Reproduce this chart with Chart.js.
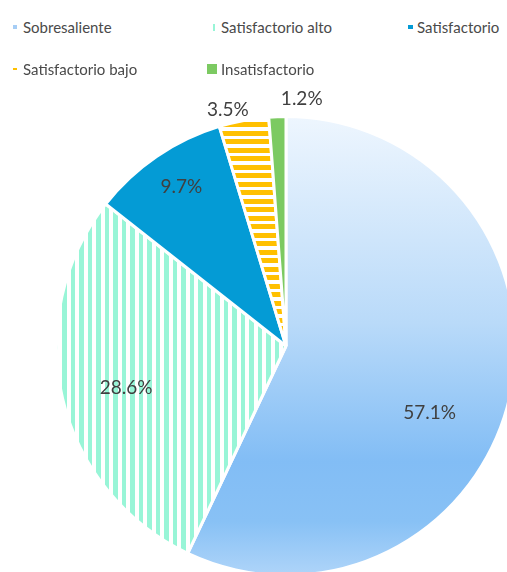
<!DOCTYPE html>
<html>
<head>
<meta charset="utf-8">
<script src="https://cdn.jsdelivr.net/npm/chart.js@4/dist/chart.umd.min.js"></script>
<style>
  html, body { margin: 0; padding: 0; background: #fff; overflow: hidden; width: 507px; height: 572px; }
  #wrap { position: relative; width: 507px; height: 572px; overflow: hidden; }
  #pie { position: absolute; left: -14px; top: 46px; }
  .leg { position: absolute; font-family: Lato, "Liberation Sans", sans-serif; font-size: 15px; color: #4a4a4a; line-height: 18px; white-space: nowrap; z-index: 2; }
  .mk { position: absolute; z-index: 2; }
</style>
</head>
<body>
<div id="wrap">
  <canvas id="pie" width="600" height="600"></canvas>
</div>
<script>
const categories = ['Sobresaliente', 'Satisfactorio alto', 'Satisfactorio', 'Satisfactorio bajo', 'Insatisfactorio'];
const percentages = [57.1, 28.6, 9.7, 3.5, 1.2];

// label placement: fraction of radius, angle nudge (deg) off the slice middle
const labelRadius = [0.69, 0.72, 0.83, 1.06, 1.08];
const labelNudge = [12.3, -1.5, 1, -3.2, 5.8];

const canvas = document.getElementById('pie');
const ctx = canvas.getContext('2d');

// two stripes per 17px tile, so the period works out near 8.5px
function stripes(color, vertical, bands) {
  const c = document.createElement('canvas');
  c.width = 17; c.height = 17;
  const g = c.getContext('2d');
  g.fillStyle = '#fff';
  g.fillRect(0, 0, 17, 17);
  g.fillStyle = color;
  bands.forEach(([from, to]) => {
    if (vertical) g.fillRect(from, 0, to - from, 17);
    else g.fillRect(0, from, 17, to - from);
  });
  return ctx.createPattern(c, 'repeat');
}

const mint = stripes('#98f5d7', true, [[0, 4], [8, 13]]);
const orange = stripes('#ffc000', false, [[0, 5], [8, 13]]);

function sobresalienteFill(chart) {
  const area = chart.chartArea;
  if (!area) return '#a6cdf5';
  const g = chart.ctx.createLinearGradient(0, area.top, 0, area.bottom);
  g.addColorStop(0, '#eef6fe');
  g.addColorStop(0.45, '#b9daf9');
  g.addColorStop(0.75, '#82bdf5');
  g.addColorStop(0.88, '#88c1f5');
  g.addColorStop(1, '#b0d5f9');
  return g;
}

const flatFills = [null, mint, '#049bd5', orange, '#7cca62'];

const pctLabels = {
  id: 'pctLabels',
  afterDatasetsDraw(chart) {
    const c = chart.ctx;
    const meta = chart.getDatasetMeta(0);
    c.save();
    c.font = '19px Lato, "Liberation Sans", sans-serif';
    c.fillStyle = '#404040';
    c.textAlign = 'center';
    c.textBaseline = 'middle';
    meta.data.forEach((arc, i) => {
      const p = arc.getProps(['x', 'y', 'startAngle', 'endAngle', 'outerRadius'], true);
      const mid = (p.startAngle + p.endAngle) / 2 + labelNudge[i] * Math.PI / 180;
      const r = p.outerRadius * labelRadius[i];
      c.fillText(percentages[i].toFixed(1) + '%', p.x + Math.cos(mid) * r, p.y + Math.sin(mid) * r);
    });
    c.restore();
  }
};

new Chart(ctx, {
  type: 'pie',
  data: {
    labels: categories,
    datasets: [{
      data: percentages,
      backgroundColor: (context) => context.dataIndex === 0 ? sobresalienteFill(context.chart) : flatFills[context.dataIndex],
      borderColor: '#ffffff',
      borderWidth: 3
    }]
  },
  options: {
    responsive: false,
    animation: false,
    layout: { padding: 69 },
    plugins: {
      legend: { display: false },
      tooltip: { enabled: false }
    }
  },
  plugins: [pctLabels]
});

// legend, laid out like the original two rows
const wrap = document.getElementById('wrap');
const legendSpots = [
  { tx: 23, ty: 18, mk: [13, 25, 4, 4], color: '#a6cdf5' },
  { tx: 221, ty: 18, mk: [213, 24, 2, 7], color: '#98f5d7' },
  { tx: 417, ty: 18, mk: [408, 25, 5, 4], color: '#049bd5' },
  { tx: 23, ty: 60, mk: [13, 68, 4, 2], color: '#ffc000' },
  { tx: 221, ty: 60, mk: [207, 64, 10, 10], color: '#7cca62' }
];
categories.forEach((name, i) => {
  const s = legendSpots[i];
  const m = document.createElement('div');
  m.className = 'mk';
  m.style.cssText = `left:${s.mk[0]}px;top:${s.mk[1]}px;width:${s.mk[2]}px;height:${s.mk[3]}px;background:${s.color}`;
  wrap.appendChild(m);
  const t = document.createElement('div');
  t.className = 'leg';
  t.style.left = s.tx + 'px';
  t.style.top = s.ty + 'px';
  t.textContent = name;
  wrap.appendChild(t);
});
</script>
</body>
</html>
